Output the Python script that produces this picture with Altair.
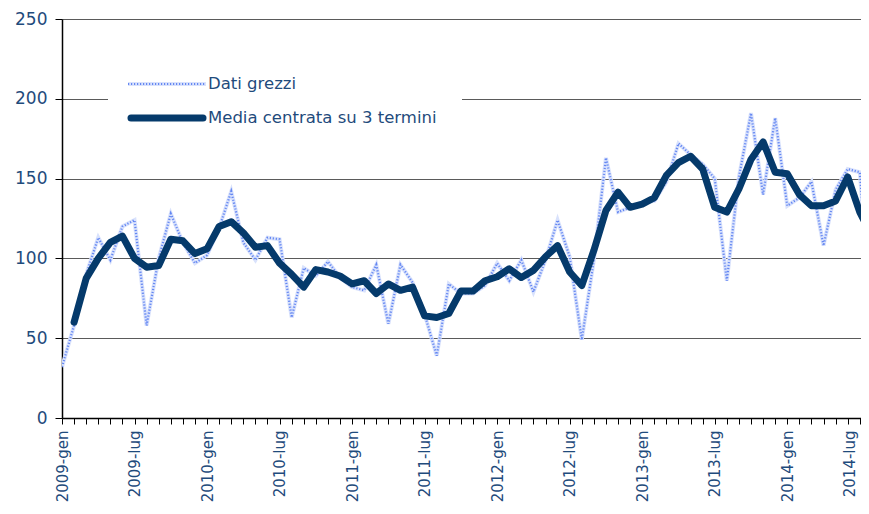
import altair as alt
import pandas as pd

# month index 0 = 2009-gen
raw_values = [32, 58, 90, 113, 99, 120, 124, 58, 100, 128, 110, 97,
              102, 119, 142, 110, 99, 113, 112, 63, 94, 89, 98, 88,
              82, 80, 96, 59, 96, 85, 65, 39, 84, 78, 78, 83,
              97, 86, 99, 79, 99, 124, 101, 49, 99, 163, 129, 132,
              135, 136, 148, 172, 165, 159, 150, 86, 151, 191, 140, 188,
              133, 138, 148, 108, 143, 156, 154, 58]
ma_values = [None, 60, 87.5, 100, 110, 114, 100, 94.5, 95.5, 112, 111, 103,
             106, 120, 123, 116, 107, 108, 97, 90, 82, 93, 91.5, 89,
             84, 86, 78, 84, 80, 82, 64, 63, 65.5, 79.5, 79.5, 86,
             88.5, 93.5, 88, 92.5, 101, 108, 91.5, 83, 105, 130, 141.5, 132,
             134, 138, 152, 160, 164, 156, 132, 129, 143.5, 162, 173, 154,
             153, 140, 133, 133, 136, 151, 129, 114]
tick_labels = ["2009-gen", "2009-lug", "2010-gen", "2010-lug", "2011-gen", "2011-lug",
               "2012-gen", "2012-lug", "2013-gen", "2013-lug", "2014-gen", "2014-lug"]
series_names = ["Dati grezzi", "Media centrata su 3 termini"]

df_raw = pd.DataFrame({"m": list(range(len(raw_values))), "v": raw_values})
df_ma = pd.DataFrame({"m": [i for i, v in enumerate(ma_values) if v is not None],
                      "v": [v for v in ma_values if v is not None]})
df_leg_raw = pd.DataFrame({"serie": [series_names[0]]})
df_leg_ma = pd.DataFrame({"serie": [series_names[1]]})

TXT = "#1f4b7c"
FONT = "DejaVu Sans"
RAW_LIGHT = "#d9e2fc"
RAW_DOT = "#6487f2"
MA_COL = "#053a6b"

label_array = "[" + ",".join("'%s'" % t for t in tick_labels) + "]"
label_expr = "datum.value % 6 == 0 ? " + label_array + "[datum.value / 6] : ''"

x_enc = alt.X("m:Q",
              scale=alt.Scale(domain=[0, 66.1], nice=False, zero=False),
              axis=alt.Axis(values=list(range(0, 67)), labelExpr=label_expr,
                            labelAngle=-90, labelOverlap=False, labelFlush=False,
                            labelBound=False, tickSize=6, tickColor="black",
                            domainColor="black", domainWidth=1.5, labelPadding=6,
                            labelOffset=alt.condition("datum.value == 66", alt.value(-10), alt.value(0)),
                            labelFontSize=15, labelColor=TXT, labelFont=FONT,
                            grid=False, title=None))
y_enc = alt.Y("v:Q",
              scale=alt.Scale(domain=[0, 250], nice=False),
              axis=alt.Axis(values=[0, 50, 100, 150, 200, 250], tickSize=7,
                            tickColor="black", domainColor="black", domainWidth=1.5,
                            grid=True, gridColor="#5a5a5a", gridWidth=1,
                            labelFontSize=17, labelColor=TXT, labelFont=FONT,
                            labelPadding=8, title=None))

raw_under = alt.Chart(df_raw).mark_line(clip=True, color=RAW_LIGHT, strokeWidth=4).encode(
    x=x_enc, y=y_enc)
raw_dots = alt.Chart(df_raw).mark_line(clip=True, color=RAW_DOT, strokeWidth=2.2,
                                       strokeDash=[1.2, 1.8]).encode(x=x_enc, y=y_enc)
ma_line = alt.Chart(df_ma).mark_line(clip=True, color=MA_COL, strokeWidth=7,
                                     strokeJoin="round", strokeCap="round").encode(
    x=x_enc, y=y_enc)

# legend (inside the plot, on a white box)
leg_box = alt.Chart(df_leg_raw).mark_rect(color="white").encode(
    x=alt.value(46), x2=alt.value(400), y=alt.value(48), y2=alt.value(118))
leg_raw_under = alt.Chart(df_leg_raw).mark_rule(color=RAW_LIGHT, strokeWidth=4).encode(
    x=alt.value(66), x2=alt.value(144), y=alt.value(65))
leg_raw_dots = alt.Chart(df_leg_raw).mark_rule(color=RAW_DOT, strokeWidth=2.2,
                                               strokeDash=[1.2, 1.8]).encode(
    x=alt.value(66), x2=alt.value(144), y=alt.value(65))
leg_raw_txt = alt.Chart(df_leg_raw).mark_text(align="left", baseline="middle", fontSize=16.5,
                                              font=FONT, color=TXT).encode(
    x=alt.value(146), y=alt.value(65), text="serie:N")
leg_ma_rule = alt.Chart(df_leg_ma).mark_rule(color=MA_COL, strokeWidth=7, strokeCap="round").encode(
    x=alt.value(69), x2=alt.value(141), y=alt.value(99))
leg_ma_txt = alt.Chart(df_leg_ma).mark_text(align="left", baseline="middle", fontSize=16.5,
                                            font=FONT, color=TXT).encode(
    x=alt.value(146), y=alt.value(99), text="serie:N")

chart = alt.layer(raw_under, raw_dots, ma_line, leg_box, leg_raw_under, leg_raw_dots,
                  leg_raw_txt, leg_ma_rule, leg_ma_txt).properties(
    width=799, height=399,
    autosize=alt.AutoSizeParams(type="none"),
    padding={"left": 54, "top": 11, "right": 0, "bottom": 87},
).configure_view(stroke=None).configure(background="white")

chart.save("out.html", embed_options={"renderer": "svg", "actions": False})
